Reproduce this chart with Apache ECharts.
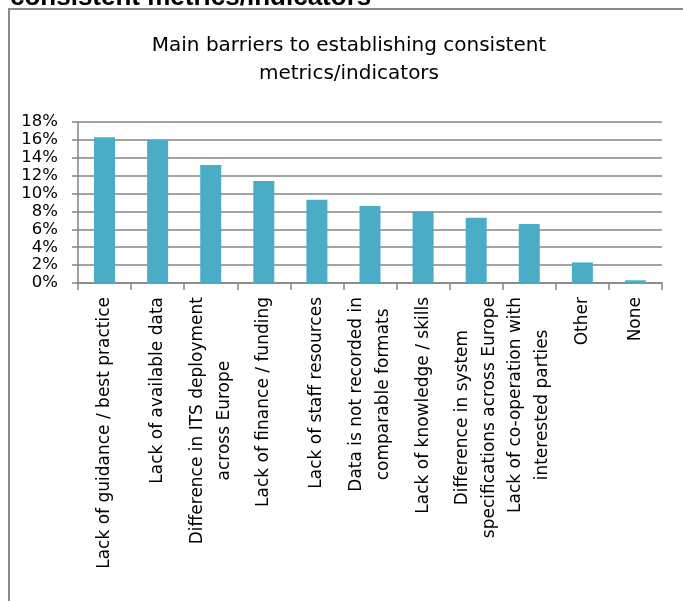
<!DOCTYPE html>
<html>
<head>
<meta charset="utf-8">
<title>Main barriers to establishing consistent metrics/indicators</title>
<script src="https://cdn.jsdelivr.net/npm/echarts@6/dist/echarts.min.js"></script>
<style>
  html, body { margin: 0; padding: 0; background: #ffffff; }
  #chart { width: 683px; height: 601px; }
</style>
</head>
<body>
<div id="chart"></div>
<script>
// Survey answers: share of respondents naming each barrier (percent)
const categories = [
  'Lack of guidance / best practice',
  'Lack of available data',
  'Difference in ITS deployment\nacross Europe',
  'Lack of finance / funding',
  'Lack of staff resources',
  'Data is not recorded in\ncomparable formats',
  'Lack of knowledge / skills',
  'Difference in system\nspecifications across Europe',
  'Lack of co-operation with\ninterested parties',
  'Other',
  'None'
];
const shares = [16.3, 16.0, 13.2, 11.4, 9.3, 8.6, 8.0, 7.3, 6.6, 2.3, 0.3];

// Value axis: 0% to 18% in steps of 2%
const yMin = 0;
const yMax = 18;
const yStep = 2;

const chartTitle = 'Main barriers to establishing consistent\nmetrics/indicators';
const headingText = 'consistent metrics/indicators';

const FONT = 'DejaVu Sans';
const GRID_GREY = '#858585';

const chart = echarts.init(document.getElementById('chart'), null, { renderer: 'canvas' });

chart.setOption({
  animation: false,
  backgroundColor: '#ffffff',
  title: {
    text: chartTitle,
    left: 349,
    top: 32,
    padding: 0,
    textAlign: 'center',
    textStyle: {
      fontFamily: FONT,
      fontSize: 20,
      lineHeight: 28,
      fontWeight: 'normal',
      color: '#000000'
    }
  },
  graphic: [
    {
      type: 'rect',
      silent: true,
      z: 0,
      shape: { x: 9, y: 9, width: 800, height: 800 },
      style: { fill: 'none', stroke: '#8a8a8a', lineWidth: 2 }
    },
    {
      type: 'text',
      silent: true,
      x: 10,
      y: -2,
      style: {
        text: headingText,
        fontFamily: 'Liberation Sans',
        fontWeight: 'bold',
        fontSize: 26,
        fill: '#000000',
        verticalAlign: 'middle',
        align: 'left'
      }
    }
  ],
  grid: {
    left: 78,
    right: 21,
    top: 122,
    height: 161,
    containLabel: false
  },
  xAxis: {
    type: 'category',
    data: categories,
    boundaryGap: true,
    axisLine: { show: true, lineStyle: { color: GRID_GREY, width: 1.5 } },
    axisTick: { show: true, length: 7, inside: false, lineStyle: { color: GRID_GREY, width: 1.5 } },
    axisLabel: {
      interval: 0,
      rotate: 90,
      margin: 14,
      color: '#000000',
      fontFamily: FONT,
      fontSize: 17,
      lineHeight: 27,
      formatter: function (value) {
        return value.split('\n').map(function (line) { return '{c|' + line + '}'; }).join('\n');
      },
      rich: {
        c: {
          align: 'center',
          fontFamily: FONT,
          fontSize: 17,
          lineHeight: 27,
          color: '#000000'
        }
      }
    },
    splitLine: { show: false }
  },
  yAxis: {
    type: 'value',
    min: yMin,
    max: yMax,
    interval: yStep,
    axisLine: { show: true, lineStyle: { color: GRID_GREY, width: 1.5 } },
    axisTick: { show: true, length: 6, inside: false, lineStyle: { color: GRID_GREY, width: 1.5 } },
    axisLabel: {
      margin: 20,
      color: '#000000',
      fontFamily: FONT,
      fontSize: 16.5,
      formatter: '{value}%'
    },
    splitLine: { show: true, lineStyle: { color: GRID_GREY, width: 1.5 } }
  },
  series: [
    {
      type: 'bar',
      data: shares,
      barWidth: 21,
      itemStyle: { color: '#4bacc6' },
      emphasis: { disabled: true }
    }
  ]
});
</script>
</body>
</html>
